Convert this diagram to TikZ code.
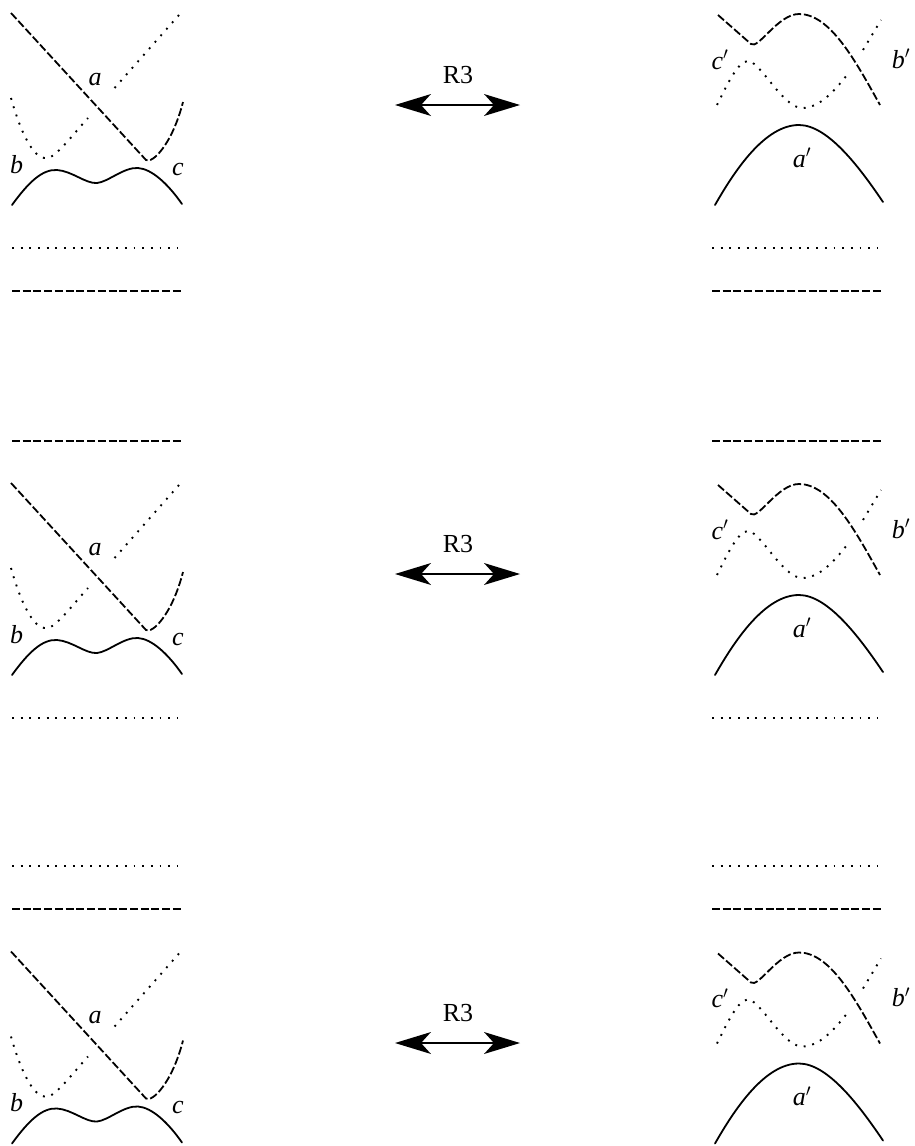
\documentclass[tikz,border=0pt]{standalone}
\usepackage{fontspec}
\setmainfont{Liberation Serif}
\tikzset{
  solidk/.style={line width=1.8pt,line cap=round},
  dashk/.style={line width=1.8pt,dash pattern=on 8pt off 2.73pt},
  dotk/.style={line width=1.9pt,dash pattern=on 1.9pt off 6.78pt},
  lab/.style={font=\fontsize{26}{26}\selectfont\itshape,inner sep=0pt,anchor=base},
  rlab/.style={font=\fontsize{26}{26}\selectfont,inner sep=0pt,anchor=base},
  arr/.style={line width=1.8pt},
  head/.style={fill=black,draw=none}
}
\newcommand{\lblock}[3]{%
\begin{scope}[shift={(#1,#2)}]
  \draw[dashk] (11,13) -- (146,160) .. controls (152,164) and (172,145) .. (183,102);
  \draw[dotk] (179,15) -- (111,92);
  \draw[dotk] (11,98) .. controls (20,130) and (33,160) .. (47,158) .. controls (55,158) and (70,138) .. (88,118);
  \draw[solidk] (12,205) .. controls (28,183) and (42,169) .. (57,170) .. controls (72,171) and (86,184) .. (97,183) .. controls (108,182) and (124,167) .. (138,168) .. controls (152,169) and (168,184) .. (182,204);
  \node[lab] (a#3) at (95,85) {a};
  \node[lab] (b#3) at (16.5,173) {b};
  \node[lab] (c#3) at (178,175) {c};
\end{scope}}
\newcommand{\rblock}[3]{%
\begin{scope}[shift={(#1,#2)}]
  \draw[dashk] (718,15) -- (751,44) .. controls (758,50) and (778,14) .. (799,14) .. controls (830,14) and (855,60) .. (880,105);
  \draw[dotk] (717,105) .. controls (727,85) and (738,61) .. (748,61) .. controls (760,61) and (783,108) .. (802,108) .. controls (820,108) and (835,90) .. (847,75);
  \draw[dotk] (863,50) -- (881,20);
  \draw[solidk] (715,205) .. controls (735,170) and (765,125) .. (799,125) .. controls (828,125) and (860,168) .. (883,202);
  \node[lab] (ap#3) at (802,167) {a$'$};
  \node[lab] (bp#3) at (901,68) {b$'$};
  \node[lab] (cp#3) at (720,69) {c$'$};
\end{scope}}
\newcommand{\rthree}[3]{%
\begin{scope}[shift={(#1,#2)}]
  \node[rlab] (r#3) at (458,83.5) {R3};
  \coordinate (al#3) at (410,105);
  \coordinate (ar#3) at (505,105);
  \draw[arr] (al#3) -- (ar#3);
  \fill[head] (395,105) -- (431,94) -- (421,105) -- (431,116) -- cycle;
  \fill[head] (520,105) -- (484,94) -- (494,105) -- (484,116) -- cycle;
\end{scope}}
\begin{document}
\begin{tikzpicture}[x=1pt,y=-1pt]
\useasboundingbox (0,0) rectangle (915,1146);
\clip (0,0) rectangle (915,1146);
\lblock{0}{0}{1}
\rblock{0}{0}{1}
\rthree{0}{0}{1}
\lblock{0}{470}{2}
\rblock{0}{470}{2}
\rthree{0}{469}{2}
\lblock{0}{938.5}{3}
\rblock{0}{938.5}{3}
\rthree{0}{938}{3}
\draw[dotk] (12,248) -- (178,248);
\draw[dashk] (12,291) -- (181,291);
\draw[dotk] (712,248) -- (878,248);
\draw[dashk] (712,291) -- (881,291);
\draw[dashk] (12,441) -- (181,441);
\draw[dashk] (712,441) -- (881,441);
\draw[dotk] (12,718) -- (178,718);
\draw[dotk] (712,718) -- (878,718);
\draw[dotk] (12,866) -- (178,866);
\draw[dashk] (12,909) -- (181,909);
\draw[dotk] (712,866) -- (878,866);
\draw[dashk] (712,909) -- (881,909);
\end{tikzpicture}
\end{document}
